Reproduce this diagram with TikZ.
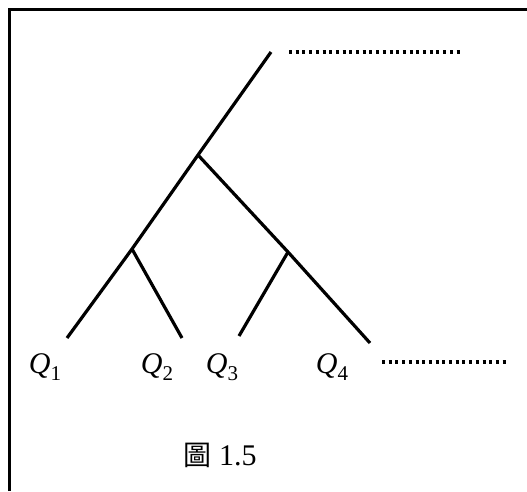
\documentclass[tikz,border=0pt]{standalone}
\usepackage{fontspec}
\setmainfont{Liberation Serif}
\newfontfamily\cjkfont{Noto Sans CJK TC}
\begin{document}
\begin{tikzpicture}[x=1pt,y=-1pt,
  branch/.style={line width=3.2pt},
  frameline/.style={line width=3.4pt},
  dotline/.style={line width=3.2pt,dash pattern=on 3pt off 3.7pt},
  leaflabel/.style={inner sep=0pt,font=\fontsize{30}{30}\selectfont},
  captionlabel/.style={inner sep=0pt,font=\fontsize{30}{30}\selectfont}]
\useasboundingbox (0,0) rectangle (527,491);
% frame
\draw[frameline] (9.5,491) -- (9.5,9.5) -- (527,9.5);
% tree points
\coordinate (top) at (271,52);
\coordinate (a) at (198,155);
\coordinate (b) at (132,249);
\coordinate (c) at (288,252);
\coordinate (l1) at (67,338);
\coordinate (l2) at (182,338);
\coordinate (l3) at (239,336);
\coordinate (l4) at (370,343);
\draw[branch] (top) -- (a) -- (b) -- (l1);
\draw[branch] (b) -- (l2);
\draw[branch] (a) -- (c) -- (l4);
\draw[branch] (c) -- (l3);
% dotted lines
\coordinate (d1s) at (289,52);
\coordinate (d1e) at (463,52);
\coordinate (d2s) at (382,362);
\coordinate (d2e) at (509,362);
\draw[dotline] (d1s) -- (d1e);
\draw[dotline] (d2s) -- (d2e);
% labels
\node[leaflabel] (q1) at (45,367) {\textit{Q}\raisebox{-0.22em}{\fontsize{21}{21}\selectfont 1}};
\node[leaflabel] (q2) at (157,367) {\textit{Q}\raisebox{-0.22em}{\fontsize{21}{21}\selectfont 2}};
\node[leaflabel] (q3) at (222,367) {\textit{Q}\raisebox{-0.22em}{\fontsize{21}{21}\selectfont 3}};
\node[leaflabel] (q4) at (332,367) {\textit{Q}\raisebox{-0.22em}{\fontsize{21}{21}\selectfont 4}};
\node[captionlabel] (cap) at (220,455) {{\cjkfont\fontsize{28}{28}\selectfont 圖} 1.5};
\end{tikzpicture}
\end{document}
